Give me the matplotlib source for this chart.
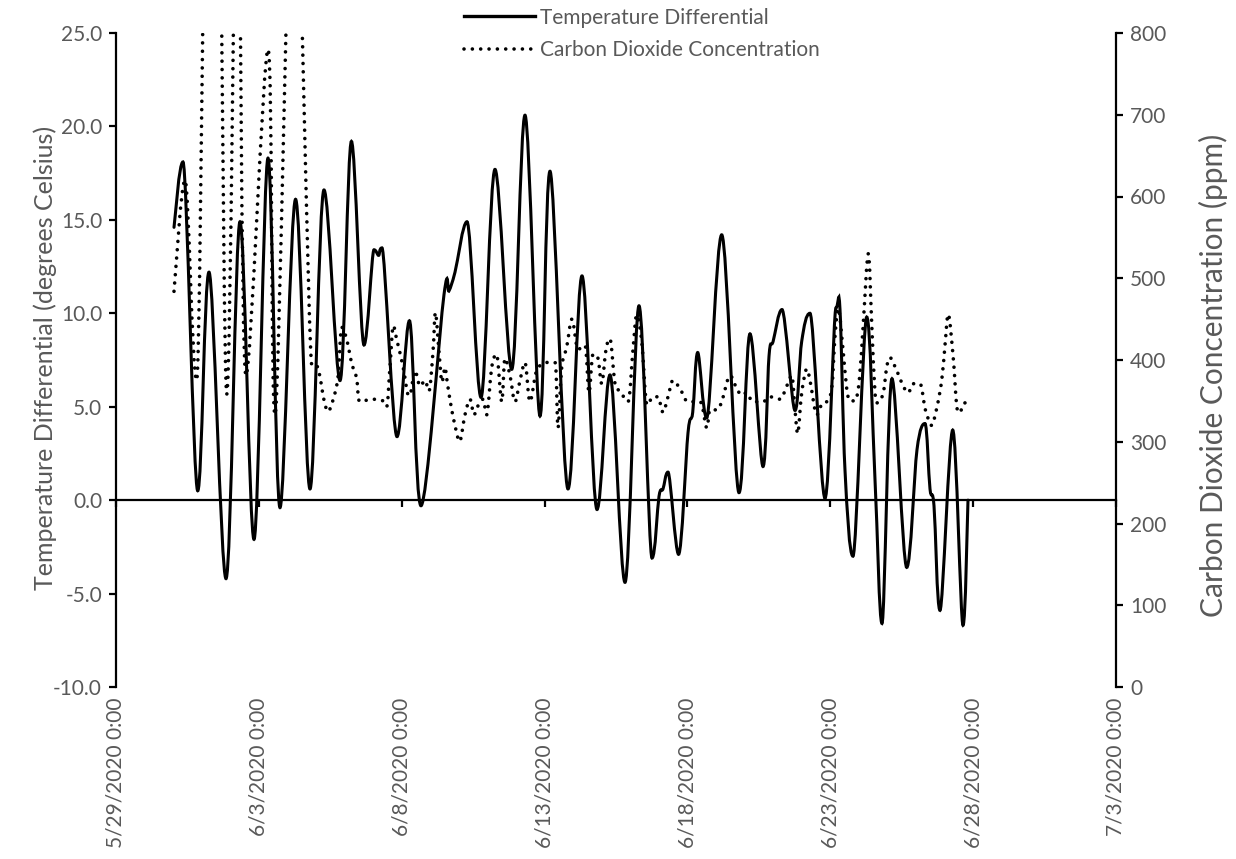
import matplotlib
matplotlib.use("Agg")
import matplotlib.pyplot as plt
import numpy as np
import pandas as pd
from matplotlib.path import Path
from matplotlib.patches import PathPatch
from matplotlib.lines import Line2D
import matplotlib.transforms as mtransforms

# time in days after 5/29/2020 0:00
t_temp = [2.03, 2.345, 2.86, 3.255, 3.85, 4.34, 4.83, 5.32, 5.74, 6.285, 6.79,
          7.28, 7.84, 8.24, 8.68, 9.03, 9.19, 9.31, 9.835, 10.27, 10.675, 11.48,
          11.655, 11.865, 12.285, 12.775, 13.265, 13.85, 14.315, 14.84, 15.19,
          15.82, 16.31, 16.835, 17.29, 17.815, 18.305, 18.76, 19.005, 19.145,
          19.32, 19.69, 20.02, 20.185, 20.36, 20.675, 21.2, 21.805, 22.19,
          22.645, 22.855, 23.0, 23.31, 23.765, 24.0, 24.29, 24.815, 25.2, 25.34,
          25.515, 25.795, 26.275, 26.565, 26.81, 27.16, 27.675, 28.035, 28.315,
          28.49, 28.63, 28.84, 29.285, 29.645, 29.82]
temp_diff = [14.6, 18.1, 0.5, 12.2, -4.2, 14.9, -2.1, 18.3, -0.4, 16.1, 0.6,
             16.6, 6.4, 19.2, 8.3, 13.4, 13.1, 13.5, 3.4, 9.6, -0.3, 11.0,
             11.2, 12.2, 14.9, 5.5, 17.7, 7.0, 20.6, 4.5, 17.6,
             0.6, 12.0, -0.5, 6.7, -4.4, 10.4, -3.1, 0.2, 0.6,
             1.5, -2.9, 3.6, 4.7, 7.9, 4.4, 14.2, 0.4, 8.9,
             1.8, 7.7, 8.5, 10.2, 4.8, 8.5, 10.0, 0.1, 10.3, 10.2,
             1.6, -3.0, 9.8, 1.1, -6.6, 6.5, -3.6, 2.7, 4.1,
             0.6, -0.3, -5.9, 3.75, -6.7, 0.0]

t_co2 = [2.03, 2.415, 2.825, 3.395, 3.875, 4.25, 4.55, 5.32, 5.565, 6.23, 6.86,
         7.035, 7.14, 7.28, 7.42, 7.595, 7.77, 7.9, 8.075, 8.25, 8.42, 8.54,
         8.96, 9.345, 9.475, 9.59, 9.705, 9.825, 10.045, 10.2, 10.29, 10.465,
         10.64, 10.815, 10.955, 11.095, 11.18, 11.305, 11.41, 11.515, 11.585,
         11.75, 11.97, 12.04, 12.215, 12.39, 12.53, 12.67, 12.845, 12.975,
         13.15, 13.32, 13.5, 13.615, 13.79, 13.965, 14.14, 14.315, 14.49,
         14.725, 15.075, 15.365, 15.47, 15.6, 15.775, 15.96, 16.17, 16.415,
         16.555, 16.695, 16.87, 17.0, 17.15, 17.29, 17.465, 17.64, 17.92,
         18.095, 18.225, 18.4, 18.585, 18.795, 18.97, 19.145, 19.32, 19.495,
         19.74, 20.02, 20.44, 20.675, 20.79, 21.025, 21.2, 21.49, 21.725, 21.9,
         22.075, 22.295, 22.645, 22.89, 23.24, 23.475, 23.65, 23.765, 23.86,
         24.0, 24.175, 24.29, 24.525, 24.7, 24.875, 25.05, 25.165, 25.28,
         25.445, 25.575, 25.69, 25.865, 26.015, 26.155, 26.33, 26.45, 26.565,
         26.68, 26.855, 26.975, 27.09, 27.325, 27.555, 27.73, 27.905, 28.14,
         28.315, 28.43, 28.55, 28.725, 28.9, 29.015, 29.13, 29.305, 29.425,
         29.54, 29.655, 29.835]
co2_ppm = [484, 620, 375, 1700, 358, 1050, 381, 780, 333, 1050, 392,
           392, 379, 351, 337, 351, 379, 440, 425, 396, 378, 349,
           352, 350, 343, 392, 442, 425, 392, 360, 357, 387,
           368, 375, 362, 410, 458, 410, 373, 391, 375,
           339, 304, 301, 333, 352, 333, 344, 352, 333,
           391, 407, 349, 402, 381, 349, 375, 397, 349,
           387, 397, 397, 317, 391, 416, 450, 413, 418,
           360, 407, 402, 371, 413, 426, 371, 362, 349,
           413, 455, 423, 345, 355, 355, 336, 355, 375,
           365, 349, 349, 317, 339, 339, 349, 381, 365, 357,
           360, 349, 349, 355, 352, 368, 381, 339, 310,
           360, 389, 375, 333, 346, 349, 365, 429, 463,
           413, 365, 350, 350, 375, 445, 530, 445, 360,
           348, 360, 391, 403, 387, 368, 360, 371, 371,
           341, 328, 320, 341, 375, 418, 456, 402, 344,
           336, 346, 349]

start = pd.Timestamp("2020-05-29")
tick_days = [0, 5, 10, 15, 20, 25, 30, 35]
tick_labels = [f"{d.month}/{d.day}/{d.year} 0:00"
               for d in (start + pd.to_timedelta(tick_days, unit="D"))]


def smooth_path(x, y):
    # smoothed line: cubic Bezier segments through every point,
    # flat tangent at local peaks/troughs so they don't overshoot
    p = np.column_stack([x, y]).astype(float)
    n = len(p)
    tang = np.zeros_like(p)
    for i in range(n):
        a = p[max(i - 1, 0)]
        b = p[min(i + 1, n - 1)]
        tang[i] = (b - a) / 6.0
        if 0 < i < n - 1 and (p[i, 1] - a[1]) * (b[1] - p[i, 1]) <= 0:
            tang[i, 1] = 0.0
    verts = [p[0]]
    codes = [Path.MOVETO]
    for i in range(n - 1):
        p1, p2 = p[i], p[i + 1]
        c1 = p1 + tang[i]
        c2 = p2 - tang[i + 1]
        c1[0] = np.clip(c1[0], p1[0], p2[0])
        c2[0] = np.clip(c2[0], p1[0], p2[0])
        verts += [c1, c2, p2]
        codes += [Path.CURVE4] * 3
    return Path(verts, codes)


plt.rcParams["font.family"] = ["Lato", "DejaVu Sans"]
grey = "#595959"
fs = 15
dots = (0, (0.01, 2.3))
W, H = 1236, 859

fig = plt.figure(figsize=(W / 100, H / 100), dpi=100)
ax = fig.add_axes([116 / W, 1 - 687 / H, 1000 / W, 654 / H])
ax2 = ax.twinx()

ax.add_patch(PathPatch(smooth_path(t_temp, temp_diff), facecolor="none",
                       edgecolor="black", lw=2.2, capstyle="round"))
co2 = PathPatch(smooth_path(t_co2, co2_ppm), facecolor="none",
                edgecolor="black", lw=2.6, linestyle=dots)
co2.set_capstyle("round")
ax2.add_patch(co2)

ax.set_xlim(0, 35)
ax.set_ylim(-10, 25)
ax2.set_ylim(0, 800)

ax.set_yticks(np.arange(-10, 26, 5))
ax.set_yticklabels([f"{v:.1f}" for v in np.arange(-10, 26, 5)])
ax2.set_yticks(np.arange(0, 801, 100))

ax.set_xticks(tick_days)
ax.set_xticklabels([])
trans = mtransforms.blended_transform_factory(ax.transData, ax.transAxes)
for d, lab in zip(tick_days, tick_labels):
    ax.text(d, -0.016, lab, transform=trans, rotation=90, ha="center",
            va="top", fontsize=fs, color=grey)

for s in ["top", "right"]:
    ax.spines[s].set_visible(False)
for s in ["top", "bottom", "left"]:
    ax2.spines[s].set_visible(False)
ax.spines["bottom"].set_position(("data", 0))
for sp in [ax.spines["left"], ax.spines["bottom"], ax2.spines["right"]]:
    sp.set_linewidth(1.6)

ax.tick_params(axis="y", direction="out", length=5, width=1.6, pad=5,
               labelsize=fs, labelcolor=grey)
ax.tick_params(axis="x", direction="out", length=5, width=1.6)
ax2.tick_params(axis="y", direction="out", length=5, width=1.6, pad=5,
                labelsize=fs, labelcolor=grey)

ax.set_ylabel("Temperature Differential (degrees Celsius)", fontsize=18,
              color=grey)
ax2.set_ylabel("Carbon Dioxide Concentration (ppm)", fontsize=21.5,
               color=grey)

# place the axis titles by their pixel extents: (center x, lower end y)
# measured from the top-left corner of the image
title_spots = [(ax.yaxis, 45, 590), (ax2.yaxis, 1213, 617)]
for axis, cx, low in title_spots:
    axis.set_label_coords(0.5, 0.5)
fig.canvas.draw()
for axis, cx, low in title_spots:
    bb = axis.label.get_window_extent()
    dx = cx - (bb.x0 + bb.x1) / 2
    dy = (H - low) - bb.y0
    axis.set_label_coords(0.5 + dx / 1000, 0.5 + dy / 654)

handles = [Line2D([], [], color="black", lw=2.4),
           Line2D([], [], color="black", lw=2.6, linestyle=dots,
                  dash_capstyle="round")]
fig.legend(handles, ["Temperature Differential", "Carbon Dioxide Concentration"],
           loc="center left", bbox_to_anchor=(464 / W, 1 - 34 / H),
           frameon=False, fontsize=fs, labelcolor=grey, handlelength=3.4,
           handletextpad=0.25, labelspacing=0.6, borderpad=0, borderaxespad=0)

fig.savefig("out.png", dpi=100)
